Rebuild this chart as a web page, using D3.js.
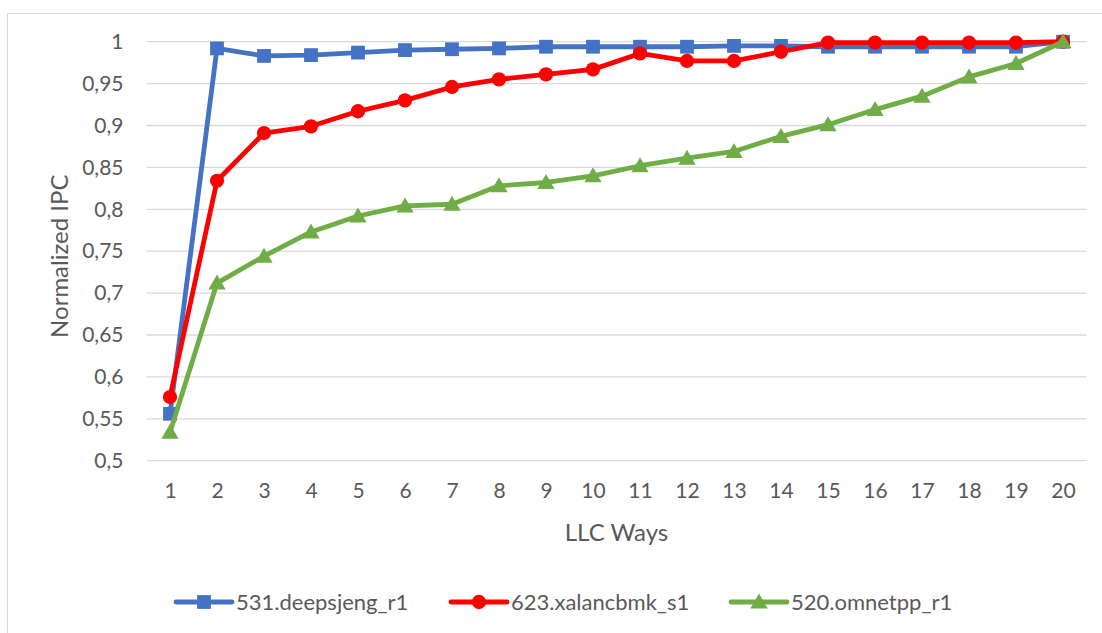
<!DOCTYPE html>
<html>
<head>
<meta charset="utf-8">
<script src="https://cdn.jsdelivr.net/npm/d3@7"></script>
<style>
  html, body { margin: 0; padding: 0; background: #fff; }
  svg { display: block; font-family: Lato, "Open Sans", sans-serif; }
</style>
</head>
<body>
<svg id="chart" width="1102" height="633"></svg>
<script>
// LLC ways allocated (x categories)
const ways = d3.range(1, 21).map(String);

// Normalized IPC per benchmark
const deepsjeng = [0.556, 0.992, 0.983, 0.984, 0.987, 0.990, 0.991, 0.992, 0.994, 0.994,
                   0.994, 0.994, 0.995, 0.995, 0.994, 0.994, 0.994, 0.994, 0.994, 1.000];
const xalancbmk = [0.576, 0.834, 0.891, 0.899, 0.917, 0.930, 0.946, 0.955, 0.961, 0.967,
                   0.986, 0.977, 0.977, 0.988, 0.999, 0.999, 0.999, 0.999, 0.999, 1.000];
const omnetpp   = [0.534, 0.712, 0.744, 0.773, 0.792, 0.804, 0.806, 0.828, 0.832, 0.840,
                   0.852, 0.861, 0.869, 0.887, 0.901, 0.919, 0.935, 0.958, 0.974, 1.000];

const seriesNames = ["531.deepsjeng_r1", "623.xalancbmk_s1", "520.omnetpp_r1"];
const seriesValues = [deepsjeng, xalancbmk, omnetpp];
const seriesColors = ["#4472C4", "#FF0000", "#70AD47"];
const seriesShapes = [d3.symbolSquare, d3.symbolCircle, d3.symbolTriangle];

const yTicks = [0.5, 0.55, 0.6, 0.65, 0.7, 0.75, 0.8, 0.85, 0.9, 0.95, 1];
const yTitle = "Normalized IPC";
const xTitle = "LLC Ways";

const svg = d3.select("#chart");
const plot = { left: 146.5, right: 1086.5, top: 41.7, bottom: 460.7 };
const textColor = "#595959";

// chart frame
svg.append("rect")
  .attr("x", 7.5).attr("y", 13.5)
  .attr("width", 1100).attr("height", 640)
  .attr("fill", "#fff").attr("stroke", "#d9d9d9").attr("stroke-width", 1);

const x = d3.scalePoint().domain(ways).range([plot.left, plot.right]).padding(0.5);
const y = d3.scaleLinear().domain([0.5, 1]).range([plot.bottom, plot.top]);

const fmt = v => String(+v.toFixed(2)).replace(".", ",");

// horizontal gridlines
svg.append("g")
  .selectAll("line").data(yTicks).join("line")
  .attr("x1", plot.left).attr("x2", plot.right)
  .attr("y1", d => y(d)).attr("y2", d => y(d))
  .attr("stroke", "#d9d9d9").attr("stroke-width", 1.3);

// y axis labels
const yAxis = svg.append("g")
  .attr("transform", `translate(${plot.left},0)`)
  .call(d3.axisLeft(y).tickValues(yTicks).tickFormat(fmt).tickSize(0).tickPadding(23));
yAxis.select(".domain").remove();
yAxis.selectAll("text")
  .attr("fill", textColor).style("font-size", "21px").style("font-family", "Lato, sans-serif");

// x axis labels
const xAxis = svg.append("g")
  .attr("transform", `translate(0,${plot.bottom})`)
  .call(d3.axisBottom(x).tickSize(0).tickPadding(22));
xAxis.select(".domain").remove();
xAxis.selectAll("text")
  .attr("fill", textColor).style("font-size", "21px").style("font-family", "Lato, sans-serif");

// axis titles
svg.append("text")
  .attr("transform", `translate(68,${(plot.top + plot.bottom) / 2 + 5}) rotate(-90)`)
  .attr("text-anchor", "middle")
  .attr("fill", textColor).style("font-size", "24px")
  .text(yTitle);

svg.append("text")
  .attr("x", (plot.left + plot.right) / 2).attr("y", 541)
  .attr("text-anchor", "middle")
  .attr("fill", textColor).style("font-size", "24px")
  .text(xTitle);

// series lines and markers
const line = d3.line().x((d, i) => x(ways[i])).y(d => y(d));
const symbolSizes = [190, 160, 130];
const symbolShift = [0, 0, 1.5];

seriesValues.forEach((vals, s) => {
  const g = svg.append("g");
  g.append("path")
    .attr("d", line(vals))
    .attr("fill", "none")
    .attr("stroke", seriesColors[s])
    .attr("stroke-width", 4.8)
    .attr("stroke-linejoin", "round");
  g.selectAll("path.marker").data(vals).join("path")
    .attr("class", "marker")
    .attr("transform", (d, i) => `translate(${x(ways[i])},${y(d) + symbolShift[s]})`)
    .attr("d", d3.symbol().type(seriesShapes[s]).size(symbolSizes[s]))
    .attr("fill", seriesColors[s]);
});

// legend
const legendX = [176, 451, 731];
const legendY = 602;
const legend = svg.append("g");
seriesNames.forEach((name, s) => {
  const lg = legend.append("g").attr("transform", `translate(${legendX[s]},${legendY})`);
  lg.append("line")
    .attr("x1", 0).attr("x2", 56).attr("y1", 0).attr("y2", 0)
    .attr("stroke", seriesColors[s]).attr("stroke-width", 4.8)
    .attr("stroke-linecap", "round");
  lg.append("path")
    .attr("transform", `translate(28,${symbolShift[s]})`)
    .attr("d", d3.symbol().type(seriesShapes[s]).size(symbolSizes[s]))
    .attr("fill", seriesColors[s]);
  lg.append("text")
    .attr("x", 60).attr("y", 8)
    .attr("fill", textColor).style("font-size", "22px")
    .text(name);
});
</script>
</body>
</html>
